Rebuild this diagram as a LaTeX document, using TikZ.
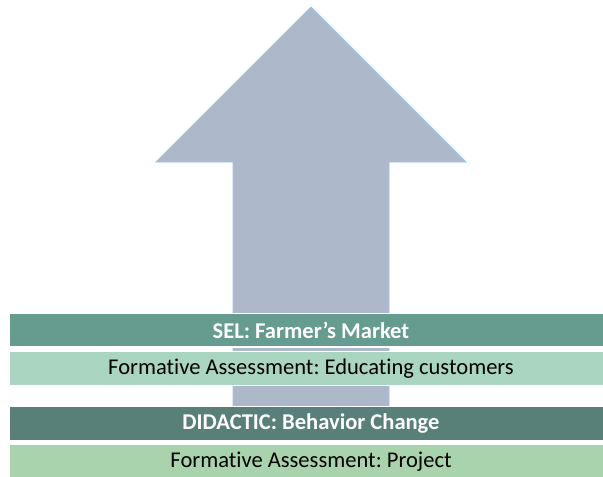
\documentclass[tikz,border=0pt]{standalone}
\usepackage{fontspec}
\setmainfont{Carlito}[Ligatures=NoCommon]
\frenchspacing
\definecolor{arrowfill}{RGB}{173,185,202}
\definecolor{arrowline}{RGB}{157,195,230}
\definecolor{bandA}{RGB}{102,155,144}
\definecolor{bandB}{RGB}{169,213,193}
\definecolor{bandC}{RGB}{88,128,120}
\definecolor{bandD}{RGB}{169,211,172}
\tikzset{
  band/.style={draw=white, line width=0.8pt},
  boldtext/.style={font=\fontsize{16.9}{20}\selectfont\bfseries, text=white},
  plaintext/.style={font=\fontsize{16.9}{20}\selectfont, text=black},
}
\begin{document}
\begin{tikzpicture}[x=0.75pt,y=-0.75pt]
\useasboundingbox (0,0) rectangle (603,476);
\clip (0,0) rectangle (603,476);
% arrow
\draw[fill=arrowfill, draw=arrowline, line width=0.6pt]
  (311,7) -- (466,162) -- (389,162) -- (389,420) -- (233,420) -- (233,162) -- (156,162) -- cycle;
% bands
\fill[bandA, band] (9,313.5) rectangle (615,347);
\fill[bandB, band] (9,351.5) rectangle (615,385.5);
\fill[bandC, band] (9,406.5) rectangle (615,440.5);
\fill[bandD, band] (9,444.5) rectangle (615,480);
\node[boldtext] (sel) at (311,330.5) {SEL: Farmer’s Market};
\node[plaintext] (fa1) at (311,368.5) {Formative Assessment: Educating customers};
\node[boldtext] (did) at (311,423.5) {DIDACTIC: Behavior Change};
\node[plaintext] (fa2) at (311,462) {Formative Assessment: Project};
\end{tikzpicture}
\end{document}
